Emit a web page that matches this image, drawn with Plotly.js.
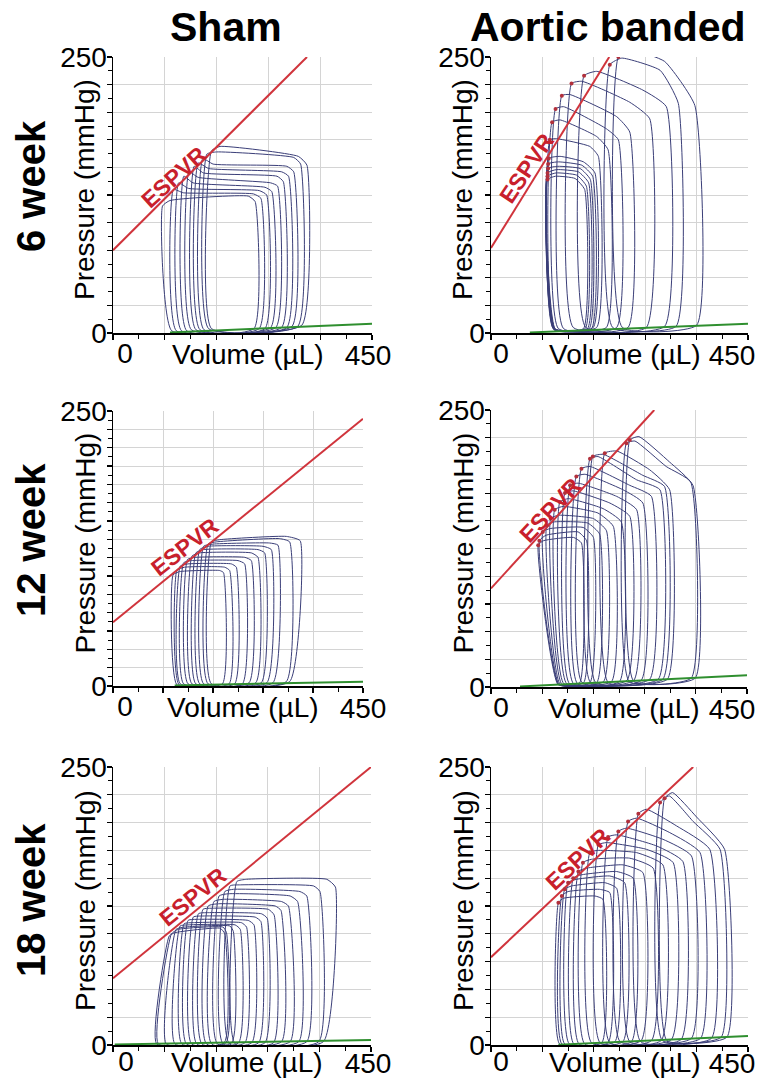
<!DOCTYPE html>
<html><head><meta charset="utf-8">
<script src="https://cdn.plot.ly/plotly-3.0.1.min.js"></script>
<style>html,body{margin:0;padding:0;background:#fff}</style>
</head><body>
<div id="chart" style="width:774px;height:1081px"></div>
<script>
// ---------------- DATA ----------------
const columnLabels = ['Sham', 'Aortic banded'];
const rowLabels = ['6 week', '12 week', '18 week'];
const xTickLabels = ['0', '450'];
const yTickLabels = ['0', '250'];
const xTitle = 'Volume (µL)';
const yTitle = 'Pressure (mmHg)';
const espvrLabel = 'ESPVR';

// Each loop = vertices [bottom-left, bottom-right (EDV), top-right, shoulder, peak, top-left (ES)]
// Volumes (µL)
const sham6V = [
 [171,328,337,322,186,171],[166,321,326,314,180,163],[158,311,314,302,174,156],
 [151,302,305,293,166,148],[144,293,296,285,157,141],[136,283,286,274,148,132],
 [128,274,276,264,139,123],[119,264,267,254,131,114],[110,254,257,244,122,105],
 [102,245,247,235,99,86]];
// Pressures (mmHg)
const sham6P = [
 [4,7,152,160,169,165],[4,6,153,159,164,162],[3,6,146,151,153,158],
 [3,5,142,146,149,154],[3,5,137,142,145,151],[3,5,133,136,141,146],
 [2,5,128,132,136,142],[2,4,125,129,131,136],[2,4,122,126,127,130],
 [2,4,119,124,120,115]];

const band6V = [
 [230,360,357,304,249,223],[213,324,328,296,229,208],[166,304,307,266,185,163],
 [144,272,278,243,159,141],[127,240,243,220,138,124],[118,220,223,202,127,113],
 [112,202,205,185,121,107],[109,185,188,173,115,103],[110,179,182,162,121,101],
 [110,176,178,159,118,100],[111,172,174,156,117,100],[111,169,171,153,115,99],
 [112,165,167,150,114,99],[113,162,164,147,113,99]];
const band6P = [
 [5,7,206,246,256,250],[5,6,208,238,249,243],[5,6,205,220,237,233],
 [5,5,194,209,228,226],[4,5,182,196,216,215],[4,5,175,185,205,203],
 [4,5,166,178,193,191],[4,5,160,169,176,175],[4,5,145,155,160,158],
 [3,4,142,152,155,153],[3,4,139,149,151,149],[3,4,136,146,148,145],
 [3,4,133,143,145,142],[3,4,130,140,142,139]];

const sham12V = [
 [177,318,337,312,192,177],[171,312,318,300,186,171],[163,288,297,282,180,163],
 [156,277,285,270,171,156],[149,267,273,261,163,149],[142,257,261,249,156,142],
 [135,245,249,237,149,134],[127,233,237,225,141,127],[121,219,222,213,135,121],
 [119,209,210,201,129,115],[115,197,199,192,120,108]];
const sham12P = [
 [2,4,132,136,133,131],[2,4,131,134,131,129],[2,3,128,130,129,127],
 [2,3,124,127,127,124],[2,3,121,124,124,121],[2,3,117,121,121,118],
 [2,3,114,117,117,115],[2,2,111,114,114,112],[2,2,108,111,111,109],
 [1,2,105,108,108,105],[1,2,103,105,104,101]];

const band12V = [
 [251,359,355,314,260,244],[243,352,351,308,253,238],[206,310,314,279,221,200],
 [184,302,305,267,197,179],[175,294,297,256,188,174],[160,279,282,244,174,159],
 [152,264,267,232,165,150],[145,251,256,221,153,139],[138,239,244,209,144,130],
 [133,226,229,197,136,121],[128,212,215,188,127,112],[125,198,203,180,118,105],
 [122,186,191,170,111,98],[120,174,180,162,104,91],[119,163,168,153,97,85],
 [118,156,159,145,92,83]];
const band12P = [
 [5,8,182,203,226,223],[5,8,185,199,222,220],[4,7,178,196,213,211],
 [4,7,181,191,210,208],[4,7,178,187,208,206],[4,7,172,182,199,197],
 [3,6,166,178,192,190],[3,6,160,172,184,182],[3,6,154,166,177,175],
 [3,5,149,161,170,167],[3,5,145,157,163,160],[2,5,141,152,155,152],
 [2,4,138,148,149,146],[2,4,135,144,143,140],[2,4,132,140,137,132],
 [2,4,130,135,132,128]];

const sham18V = [
 [213,367,388,373,233,216],[203,359,361,350,222,204],[192,338,338,326,210,195],
 [182,324,322,309,201,185],[172,309,306,294,192,176],[163,294,293,283,184,166],
 [155,280,281,271,175,157],[146,265,269,259,166,149],[137,254,258,248,157,140],
 [128,242,246,236,149,131],[120,230,233,224,140,124],[108,219,222,213,131,117],
 [93,207,210,204,124,110],[79,197,198,192,114,102],[76,194,195,187,108,98]];
const sham18P = [
 [1,3,142,149,149,147],[1,3,138,143,144,143],[1,3,134,138,140,138],
 [1,3,129,134,136,134],[1,3,125,129,131,129],[1,3,121,125,127,125],
 [1,2,117,122,123,122],[1,2,114,118,119,118],[1,2,111,115,116,115],
 [1,2,108,112,113,112],[1,2,106,110,110,109],[1,2,104,108,108,107],
 [1,2,102,107,106,104],[1,2,101,106,104,100],[1,2,100,105,101,98]];

const band18V = [
 [308,413,409,360,318,304],[300,403,401,354,312,296],[262,386,383,325,272,258],
 [243,367,366,313,255,240],[226,351,351,301,237,223],[208,333,336,290,220,205],
 [191,316,319,272,202,188],[176,298,301,255,187,173],[164,281,284,243,176,161],
 [154,263,266,231,167,153],[145,246,249,220,158,144],[137,231,234,208,150,135],
 [129,217,220,199,141,129],[124,205,208,190,135,124],[120,194,196,182,127,118]];
const band18P = [
 [4,7,176,205,227,222],[4,7,176,201,224,218],[3,6,176,197,212,208],
 [3,6,173,191,204,201],[3,6,170,185,195,192],[2,5,165,179,189,187],
 [2,5,164,176,182,180],[2,4,162,173,175,173],[1,4,159,168,167,164],
 [1,4,155,162,159,156],[1,3,150,156,153,150],[1,3,146,152,149,146],
 [1,3,141,146,143,140],[1,2,137,140,138,134],[1,2,131,134,132,128]];

// ESPVR lines (volume, pressure end points)
const sham6EspvrV = [0, 337],  sham6EspvrP = [75, 250];
const band6EspvrV = [0, 207],  band6EspvrP = [77, 250];
const sham12EspvrV = [0, 450], sham12EspvrP = [58, 243];
const band12EspvrV = [0, 287], band12EspvrP = [89, 250];
const sham18EspvrV = [0, 450], sham18EspvrP = [60, 250];
const band18EspvrV = [0, 354], band18EspvrP = [79, 250];

// EDPVR lines
const sham6EdpvrV = [99, 450],  sham6EdpvrP = [0.5, 8.4];
const band6EdpvrV = [68, 450],  band6EdpvrP = [0.5, 8.4];
const sham12EdpvrV = [111, 450], sham12EdpvrP = [0.5, 3.9];
const band12EdpvrV = [51, 450], band12EdpvrP = [0.5, 10.5];
const sham18EdpvrV = [3, 450],  sham18EdpvrP = [0.5, 4.5];
const band18EdpvrV = [118, 450], band18EdpvrP = [0.3, 8.1];

// ---------------- LAYOUT / STYLE ----------------
const W = 774, H = 1081;
const FONT = 'Liberation Sans, Arial, Helvetica, sans-serif';
const panels = [
 {V:sham6V, P:sham6P, eV:sham6EspvrV, eP:sham6EspvrP, gV:sham6EdpvrV, gP:sham6EdpvrP,
  px:[113,372], py:[57,333], ystep:25, dots:false, lab:[106,141,-42], s0:12, s450:-4, lift:0},
 {V:band6V, P:band6P, eV:band6EspvrV, eP:band6EspvrP, gV:band6EdpvrV, gP:band6EdpvrP,
  px:[491,748], py:[57,333], ystep:25, dots:true, lab:[63,149,-56], s0:10, s450:-16, lift:0},
 {V:sham12V, P:sham12P, eV:sham12EspvrV, eP:sham12EspvrP, gV:sham12EdpvrV, gP:sham12EdpvrP,
  px:[113,363], py:[411,686], ystep:250/15, dots:false, lab:[129,126,-38], s0:12, s450:0, lift:0},
 {V:band12V, P:band12P, eV:band12EspvrV, eP:band12EspvrP, gV:band12EdpvrV, gP:band12EdpvrP,
  px:[491,747], py:[410,687], ystep:25, dots:true, lab:[104,160,-47], s0:10, s450:-15, lift:0},
 {V:sham18V, P:sham18P, eV:sham18EspvrV, eP:sham18EspvrP, gV:sham18EdpvrV, gP:sham18EdpvrP,
  px:[113,371], py:[767,1045], ystep:25, dots:false, lab:[139,133,-39], s0:13, s450:-3, lift:4},
 {V:band18V, P:band18P, eV:band18EspvrV, eP:band18EspvrP, gV:band18EdpvrV, gP:band18EdpvrP,
  px:[491,748], py:[767,1045], ystep:25, dots:true, lab:[152,167,-43], s0:10, s450:-16, lift:4}
];

const LOOP_COLOR = '#3a3e78';
const RED = '#d0343c';
const GREEN = '#2f8f2f';
const GRID = '#d4d4d4';
const TICKFONT = {family: FONT, size: 28, color: '#000'};

const traces = [];
const layout = {
  width: W, height: H, margin: {l:0, r:0, t:0, b:0},
  paper_bgcolor: '#fff', plot_bgcolor: '#fff', showlegend: false,
  font: {family: FONT, color: '#000'},
  annotations: []
};

panels.forEach((p, i) => {
  const n = i + 1, sx = n === 1 ? '' : String(n);
  const xa = 'x' + sx, ya = 'y' + sx;
  const ox = 'x' + (n + 6);            // overlay x axis that carries the "450" label
  const order = [1, 2, 3, 4, 5, 0, 1];
  const lx = [], ly = [];
  p.V.forEach((v, k) => {
    order.forEach(j => { lx.push(v[j]); ly.push(p.P[k][j]); });
    lx.push(null); ly.push(null);
  });
  traces.push({type:'scatter', mode:'lines', x:lx, y:ly, xaxis:xa, yaxis:ya,
    line:{color:LOOP_COLOR, width:1, shape:'spline', smoothing:0.45}, hoverinfo:'skip'});
  traces.push({type:'scatter', mode:'lines', x:p.gV, y:p.gP, xaxis:xa, yaxis:ya,
    line:{color:GREEN, width:2}, hoverinfo:'skip'});
  traces.push({type:'scatter', mode:'lines', x:p.eV, y:p.eP, xaxis:xa, yaxis:ya,
    line:{color:RED, width:2}, hoverinfo:'skip'});
  if (p.dots) {
    traces.push({type:'scatter', mode:'markers', x:p.V.map(v => v[5]), y:p.P.map(v => v[5]),
      xaxis:xa, yaxis:ya, marker:{color:'#b2303c', size:4}, hoverinfo:'skip'});
  }
  traces.push({type:'scatter', mode:'markers', x:[], y:[], xaxis:ox, yaxis:ya, hoverinfo:'skip'});

  const xTickVals = [0, 90, 180, 270, 360, 450];
  const xTickText = xTickVals.map(v => v === 0 ? xTickLabels[0] : '');
  const nY = Math.round(250 / p.ystep);
  const yTickVals = [], yMinor = [];
  for (let k = 0; k <= nY; k++) yTickVals.push(k * p.ystep);
  for (let k = 0; k < nY; k++) yMinor.push((k + 0.5) * p.ystep);
  const yTickText = yTickVals.map((v, k) => k === 0 ? yTickLabels[0] : (k === nY ? yTickLabels[1] : ''));

  layout['xaxis' + sx] = {
    domain: [p.px[0] / W, p.px[1] / W], anchor: ya, range: [0, 450],
    tickmode: 'array', tickvals: xTickVals, ticktext: xTickText, tickangle: 0,
    ticklabeloverflow: 'allow', ticklabelstandoff: -10 - p.lift, ticklabelshift: p.s0,
    showgrid: true, gridcolor: GRID, gridwidth: 1, zeroline: false,
    showline: true, linecolor: '#000', linewidth: 1.5,
    ticks: 'outside', ticklen: 5, tickwidth: 1.2, tickcolor: '#000',
    minor: {tickmode: 'array', tickvals: [45, 135, 225, 315, 405], ticks: 'outside',
            ticklen: 4, tickwidth: 1, tickcolor: '#000', showgrid: false},
    tickfont: TICKFONT, fixedrange: true
  };
  layout['xaxis' + (n + 6)] = {
    overlaying: xa, anchor: ya, side: 'bottom', range: [0, 450],
    tickmode: 'array', tickvals: [450], ticktext: [xTickLabels[1]], tickangle: 0,
    ticklabeloverflow: 'allow', ticklabelstandoff: 3 - p.lift, ticklabelshift: p.s450,
    showgrid: false, zeroline: false, showline: false, ticks: '',
    tickfont: TICKFONT, fixedrange: true
  };
  layout['yaxis' + sx] = {
    domain: [1 - p.py[1] / H, 1 - p.py[0] / H], anchor: xa, range: [0, 250],
    tickmode: 'array', tickvals: yTickVals, ticktext: yTickText,
    ticklabeloverflow: 'allow', ticklabelstandoff: -6,
    showgrid: true, gridcolor: GRID, gridwidth: 1, zeroline: false,
    showline: true, linecolor: '#000', linewidth: 1.5,
    ticks: 'outside', ticklen: 5, tickwidth: 1.2, tickcolor: '#000',
    minor: {tickmode: 'array', tickvals: yMinor, ticks: 'outside',
            ticklen: 4, tickwidth: 1, tickcolor: '#000', showgrid: false},
    tickfont: TICKFONT, fixedrange: true
  };

  layout.annotations.push({text: yTitle, xref: xa + ' domain', yref: ya + ' domain',
    x: 0, y: 0.5, xshift: -28, yshift: 5, textangle: -90, showarrow: false,
    xanchor: 'center', yanchor: 'middle', font: {family: FONT, size: 28, color: '#000'}});
  layout.annotations.push({text: xTitle, xref: xa + ' domain', yref: ya + ' domain',
    x: 0.5, y: 0, xshift: 5, yshift: -21 + p.lift, showarrow: false,
    xanchor: 'center', yanchor: 'middle', font: {family: FONT, size: 28, color: '#000'}});
  layout.annotations.push({text: espvrLabel, xref: xa, yref: ya, x: p.lab[0], y: p.lab[1],
    textangle: p.lab[2], showarrow: false, xanchor: 'center', yanchor: 'middle',
    font: {family: FONT, size: 23, color: '#c8202c', weight: 'bold'}});
});

layout.annotations.push({text: columnLabels[0], xref:'paper', yref:'paper', x: 226/W, y: 1 - 27/H,
  showarrow:false, xanchor:'center', yanchor:'middle', font:{family:FONT, size:41, color:'#000', weight:'bold'}});
layout.annotations.push({text: columnLabels[1], xref:'paper', yref:'paper', x: 608/W, y: 1 - 27/H,
  showarrow:false, xanchor:'center', yanchor:'middle', font:{family:FONT, size:41, color:'#000', weight:'bold'}});
const rowY = [186, 540, 900];
rowLabels.forEach((t, k) => {
  layout.annotations.push({text: t, xref:'paper', yref:'paper', x: 31/W, y: 1 - rowY[k]/H,
    textangle: -90, showarrow:false, xanchor:'center', yanchor:'middle',
    font:{family:FONT, size:40, color:'#000', weight:'bold'}});
});

Plotly.newPlot('chart', traces, layout, {staticPlot: true, displayModeBar: false});
</script>
</body></html>
